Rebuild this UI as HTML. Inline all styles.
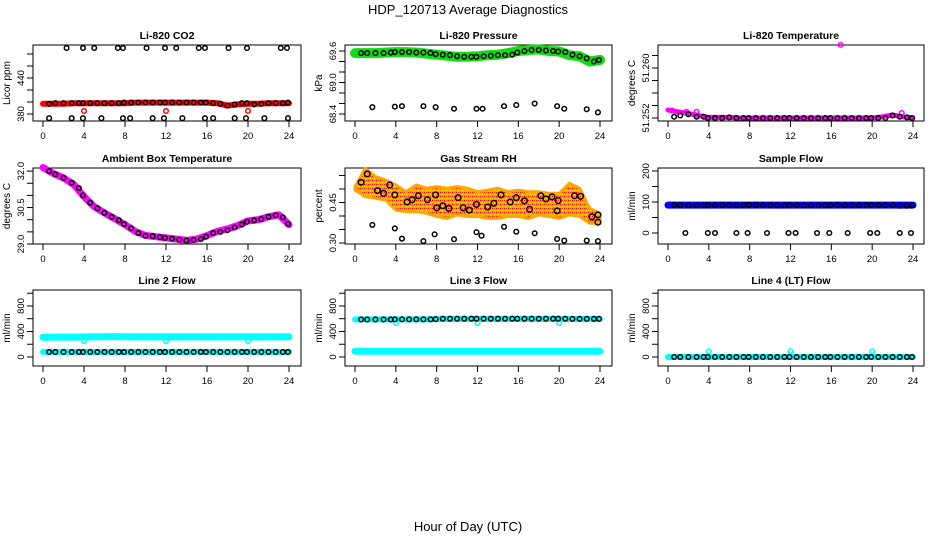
<!DOCTYPE html>
<html><head><meta charset="utf-8"><style>
body{margin:0;background:#fff;}
svg{display:block;font-family:"Liberation Sans",Arial,sans-serif;}
</style></head><body>
<svg id="chart" width="936" height="540" viewBox="0 0 936 540">
<defs>
<pattern id="rhpat" width="4" height="4" patternUnits="userSpaceOnUse">
<rect width="4" height="4" fill="#ffa500"/><rect width="1" height="1" fill="#e00"/><rect x="2" y="2" width="1" height="1" fill="#ff0"/><rect x="2" y="0" width="1" height="1" fill="#f33"/>
</pattern>
</defs>
<text x="468" y="14" text-anchor="middle" font-size="13">HDP_120713  Average Diagnostics</text>
<text x="468" y="531" text-anchor="middle" font-size="13">Hour of Day (UTC)</text>
</svg>
<script>
// shared hours
const blackHours=[0.6,1.2,2.0,2.8,3.5,3.9,4.6,5.3,6.0,6.7,7.4,7.9,8.6,9.3,10.0,10.7,11.4,11.9,12.6,13.3,14.0,14.7,15.4,15.9,16.6,17.3,18.0,18.7,19.4,19.9,20.6,21.3,22.0,22.7,23.4,23.9];
const bandHours=[0,1,2,3,4,5,6,7,8,9,10,11,12,13,14,15,16,17,18,19,20,21,22,23,24];
const xTicks=[0,4,8,12,16,20,24];
// CO2
const co2Band=[397,397,397,398,398,398,398,398,398,399,399,399,399,399,399,399,399,398,394,396,397,397,398,398,398];
const co2Black=[397,398,398,398,398,398,398,398,398,398,398,399,399,399,399,399,399,399,399,399,399,399,399,399,398,397,394,396,398,398,396,397,398,398,398,399];
const co2RedHours=[4,12,20];
const co2RedVals=[385,385,385];
const co2HighHours=[2.3,3.9,5.0,7.3,7.8,10.1,11.9,13.0,15.2,15.8,18.1,19.9,23.2,23.8];
const co2HighVal=490;
const co2LowHours=[0.6,2.8,3.9,5.7,7.8,8.5,10.7,11.8,13.6,15.8,16.6,18.7,19.8,21.6,23.9];
const co2LowVal=373;
// Pressure
const presBand=[69.56,69.56,69.56,69.57,69.58,69.58,69.57,69.55,69.53,69.51,69.49,69.49,69.50,69.52,69.53,69.56,69.60,69.62,69.63,69.60,69.59,69.52,69.50,69.40,69.43];
const presBlack=[69.56,69.56,69.56,69.56,69.57,69.58,69.58,69.58,69.57,69.57,69.56,69.54,69.53,69.52,69.50,69.49,69.49,69.49,69.50,69.51,69.52,69.52,69.53,69.57,69.60,69.62,69.62,69.61,69.60,69.59,69.58,69.53,69.50,69.46,69.40,69.43];
const presLowHours=[1.7,3.9,4.6,6.7,7.9,9.7,11.9,12.5,14.6,15.8,17.6,19.8,20.5,22.7,23.8];
const presLowVals=[68.53,68.54,68.55,68.55,68.53,68.50,68.50,68.50,68.55,68.57,68.60,68.55,68.50,68.49,68.43];
// Temperature
const tempBand=[51.2533,51.2530,51.2527,51.2524,51.2521,51.2521,51.2521,51.2520,51.2520,51.2520,51.2520,51.2520,51.2520,51.2520,51.2520,51.2520,51.2520,51.2520,51.2520,51.2520,51.2520,51.2522,51.2525,51.2522,51.2520];
const tempBlack=[51.2522,51.2524,51.2526,51.2522,51.2522,51.2520,51.2520,51.2520,51.2521,51.2520,51.2520,51.2520,51.2520,51.2520,51.2520,51.2520,51.2520,51.2520,51.2520,51.2520,51.2520,51.2520,51.2520,51.2520,51.2520,51.2520,51.2520,51.2520,51.2520,51.2520,51.2520,51.2520,51.2524,51.2522,51.2521,51.2520];
const tempMagHours=[0.4,1.8,2.8,16.9,22.9];
const tempMagVals=[51.2532,51.2530,51.2530,51.2637,51.2528];
// Ambient
const ambBand=[32.15,31.9,31.72,31.45,30.95,30.53,30.28,30.04,29.8,29.52,29.35,29.3,29.25,29.2,29.15,29.2,29.35,29.52,29.62,29.76,29.95,30.0,30.12,30.2,29.8];
const ambBlack=[32.0,31.87,31.72,31.52,31.3,31.0,30.7,30.47,30.28,30.12,29.98,29.82,29.65,29.45,29.34,29.32,29.28,29.25,29.22,29.18,29.14,29.17,29.2,29.3,29.45,29.5,29.57,29.68,29.8,29.92,29.97,30.02,30.12,30.18,30.1,29.83];
// RH
const rhUpper=[0.509,0.577,0.546,0.533,0.515,0.490,0.515,0.503,0.509,0.503,0.509,0.503,0.490,0.496,0.503,0.490,0.496,0.490,0.490,0.484,0.484,0.521,0.503,0.428,0.410];
const rhLower=[0.496,0.472,0.466,0.459,0.422,0.416,0.416,0.410,0.398,0.391,0.404,0.398,0.398,0.391,0.391,0.398,0.398,0.391,0.404,0.398,0.391,0.404,0.398,0.373,0.373];
const rhHours=[0.6,1.2,2.2,2.8,3.4,3.9,5.1,5.6,6.2,7.1,7.9,8.0,8.6,9.2,10.1,10.6,11.2,11.9,13.0,13.6,14.3,15.2,15.8,16.6,17.1,18.2,18.7,19.3,19.9,19.8,21.5,22.1,23.2,23.8,23.8];
const rhVals=[0.525,0.556,0.494,0.484,0.515,0.478,0.452,0.46,0.475,0.46,0.478,0.43,0.438,0.428,0.468,0.43,0.422,0.443,0.433,0.447,0.478,0.452,0.468,0.456,0.425,0.475,0.463,0.471,0.457,0.419,0.475,0.473,0.397,0.404,0.377];
const rhLowHours=[1.7,3.9,4.6,6.7,7.8,9.7,11.9,12.4,14.6,15.8,17.6,19.8,20.5,22.7,23.8];
const rhLowVals=[0.367,0.354,0.316,0.307,0.332,0.314,0.34,0.327,0.36,0.342,0.336,0.315,0.309,0.309,0.307];
// Sample flow
const sfBand=[90,90,90,90,90,90,90,90,90,90,90,90,90,90,90,90,90,90,90,90,90,90,90,90,90];
const sfBlack=[90,90,89,89,89,90,90,90,90,89,90,91,91,90,90,89,89,90,90,89,89,89,89,90,91,90,90,90,90,91,90,90,90,88,88,89];
const sfLowHours=[1.7,3.9,4.6,6.7,7.8,9.7,11.8,12.5,14.6,15.8,17.6,19.8,20.5,22.7,23.8];
const sfLowVal=0;
// Line 2
const l2High=[310,312,312,312,315,315,318,320,318,315,315,315,315,315,315,315,315,315,315,315,315,315,315,315,318];
const l2Low=[80,80,80,80,80,80,80,80,80,80,80,80,80,80,80,80,80,80,80,80,80,80,80,80,80];
const l2Black=[78,78,78,78,78,78,78,78,78,78,78,78,78,78,78,78,78,78,78,78,78,78,78,78,78,78,78,78,78,78,78,78,78,78,78,78];
const l2DipHours=[4,12,20];
const l2DipVals=[250,250,250];
// Line 3
const l3High=[590,590,590,590,590,590,590,590,595,595,595,595,595,595,595,595,595,595,595,595,595,595,595,595,595];
const l3Low=[90,90,90,90,90,90,90,90,90,90,90,90,90,90,90,90,90,90,90,90,90,90,90,90,90];
const l3Black=[588,588,588,588,588,590,590,590,590,590,590,592,600,600,600,600,600,600,600,600,600,600,600,600,600,600,600,600,600,600,600,598,598,598,598,598];
const l3DipHours=[4,12,20];
const l3DipVals=[530,530,530];
// Line 4
const l4Band=[0,0,0,0,0,0,0,0,0,0,0,0,0,0,0,0,0,0,0,0,0,0,0,0,0];
const l4Black=[0,0,0,0,0,0,0,0,0,0,0,0,0,0,0,0,0,0,0,0,0,0,0,0,0,0,0,0,0,0,0,0,0,0,0,0];
const l4OutHours=[4,12,20];
const l4OutVals=[90,90,90];

const NS='http://www.w3.org/2000/svg';
const svg=document.getElementById('chart');
function mk(tag,attrs,parent){const e=document.createElementNS(NS,tag);for(const k in attrs)e.setAttribute(k,attrs[k]);(parent||svg).appendChild(e);return e;}

const cols=[{l:33,r:301,x0:43,x24:289},{l:345,r:612,x0:355,x24:600},{l:658,r:924,x0:668,x24:913}];
const rows=[{t:45,b:121},{t:168,b:244},{t:290,b:366}];

function panel(ci,ri,title,ylab,yScale,ticks,labels,name){
  const c=cols[ci],r=rows[ri];
  const g=mk('g',{});
  
  
  const X=h=>c.x0+(c.x24-c.x0)*h/24;
  const Y=yScale;
  const box=mk('rect',{x:c.l,y:r.t,width:c.r-c.l,height:r.b-r.t,fill:'none',stroke:'#000','stroke-width':1},g);
  
  
  const t=mk('text',{x:(c.l+c.r)/2,y:r.t-6,'text-anchor':'middle','font-size':10.5,'font-weight':'bold'},g);
  t.textContent=title;
  
  
  const yl=mk('text',{transform:`translate(${c.l-23},${(r.t+r.b)/2}) rotate(-90)`,'text-anchor':'middle','font-size':10},g);
  yl.textContent=ylab;
  
  
  mk('line',{x1:X(0),x2:X(24),y1:r.b,y2:r.b,stroke:'#000'},g);
  xTicks.forEach(h=>{
    mk('line',{x1:X(h),x2:X(h),y1:r.b,y2:r.b+6,stroke:'#000'},g);
    const tl=mk('text',{x:X(h),y:r.b+18,'text-anchor':'middle','font-size':9.5},g);
    tl.textContent=h;
    
    
  });
  mk('line',{x1:c.l,x2:c.l,y1:Y(ticks[0]),y2:Y(ticks[ticks.length-1]),stroke:'#000'},g);
  ticks.forEach((v,i)=>{
    mk('line',{x1:c.l-6,x2:c.l,y1:Y(v),y2:Y(v),stroke:'#000'},g);
    if(labels[i]!==''){
      const tl=mk('text',{transform:`translate(${c.l-9},${Y(v)}) rotate(-90)`,'text-anchor':'middle','font-size':9.5},g);
      tl.textContent=labels[i];
      
      
    }
  });
  const plot=mk('g',{},g);
  return {X,Y,g:plot,c,r};
}
function band(p,hours,vals,color,w,name){
  const d=hours.map((h,i)=>(i?'L':'M')+p.X(h).toFixed(1)+','+p.Y(vals[i]).toFixed(1)).join(' ');
  const e=mk('path',{d,fill:'none',stroke:color,'stroke-width':w,'stroke-linecap':'round','stroke-linejoin':'round'},p.g);
  
  
}
function pts(p,hours,vals,color,name,rad){
  hours.forEach((h,i)=>{
    const v=Array.isArray(vals)?vals[i]:vals;
    const e=mk('circle',{cx:p.X(h),cy:p.Y(v),r:rad||2.3,fill:'none',stroke:color,'stroke-width':1.5},p.g);
    
    
  });
}

let p=panel(0,0,'Li-820 CO2','Licor ppm',v=>114-(v-380)*0.6,[380,400,420,440,460,480],['380','','','440','',''],'co2');
band(p,bandHours,co2Band,'#f00',6,'co2-band');
pts(p,co2RedHours,co2RedVals,'#f00','co2-red-point');
pts(p,blackHours,co2Black,'#000','co2-average-point');
pts(p,co2HighHours,co2HighVal,'#000','co2-high-outlier');
pts(p,co2LowHours,co2LowVal,'#000','co2-low-outlier');

p=panel(1,0,'Li-820 Pressure','kPa',v=>114-(v-68.4)*52.5,[68.4,68.6,68.8,69.0,69.2,69.4,69.6],['68.4','','','69.0','','','69.6'],'pressure');
band(p,bandHours,presBand,'#1d1',10,'pressure-band');
pts(p,blackHours,presBlack,'#000','pressure-average-point');
pts(p,presLowHours,presLowVals,'#000','pressure-low-outlier');

p=panel(2,0,'Li-820 Temperature','degrees C',v=>118-(v-51.252)*6250,[51.252,51.254,51.256,51.258,51.260,51.262],['51.252','','','','51.260',''],'temperature');
band(p,bandHours,tempBand,'#f0f',5,'temperature-band');
pts(p,tempMagHours,tempMagVals,'#f0f','temperature-magenta-point');
pts(p,blackHours,tempBlack,'#000','temperature-average-point');

p=panel(0,1,'Ambient Box Temperature','degrees C',v=>244-(v-29)*24.3,[29.0,29.5,30.0,30.5,31.0,31.5,32.0],['29.0','','','30.5','','','32.0'],'ambient');
band(p,bandHours,ambBand,'#f0f',7,'ambient-band');
pts(p,blackHours,ambBlack,'#000','ambient-average-point');

p=panel(1,1,'Gas Stream RH','percent',v=>243-(v-0.30)*270,[0.30,0.35,0.40,0.45,0.50,0.55],['0.30','','','0.45','',''],'rh');
{
  const up=bandHours.map((h,i)=>p.X(h).toFixed(1)+','+p.Y(rhUpper[i]).toFixed(1));
  const lo=bandHours.map((h,i)=>p.X(h).toFixed(1)+','+p.Y(rhLower[i]).toFixed(1)).reverse();
  const e=mk('polygon',{points:up.concat(lo).join(' '),fill:'url(#rhpat)',stroke:'#ffa500','stroke-width':3,'stroke-linejoin':'round'},p.g);
  
  
}
pts(p,rhHours,rhVals,'#000','rh-average-point',2.8);
pts(p,rhLowHours,rhLowVals,'#000','rh-low-outlier');

p=panel(2,1,'Sample Flow','ml/min',v=>233-v*0.31,[0,50,100,150,200],['0','','100','','200'],'sample-flow');
band(p,bandHours,sfBand,'#00f',7,'sample-flow-band');
pts(p,blackHours,sfBlack,'#000','sample-flow-average-point');
pts(p,sfLowHours,sfLowVal,'#000','sample-flow-low-outlier');

const flowY=v=>357-v*0.0638;
const flowT=[0,200,400,600,800,1000];
const flowL=['0','','400','','800',''];
p=panel(0,2,'Line 2 Flow','ml/min',flowY,flowT,flowL,'line2');
band(p,bandHours,l2High,'#0ff',7,'line2-high-band');
band(p,bandHours,l2Low,'#0ff',6,'line2-low-band');
pts(p,l2DipHours,l2DipVals,'#0ff','line2-dip-point');
pts(p,blackHours,l2Black,'#000','line2-average-point');

p=panel(1,2,'Line 3 Flow','ml/min',flowY,flowT,flowL,'line3');
band(p,bandHours,l3High,'#0ff',6,'line3-high-band');
band(p,bandHours,l3Low,'#0ff',7,'line3-low-band');
pts(p,l3DipHours,l3DipVals,'#0ff','line3-dip-point');
pts(p,blackHours,l3Black,'#000','line3-average-point');

p=panel(2,2,'Line 4 (LT) Flow','ml/min',flowY,flowT,flowL,'line4');
band(p,bandHours,l4Band,'#0ff',6,'line4-band');
pts(p,blackHours,l4Black,'#000','line4-average-point');
pts(p,l4OutHours,l4OutVals,'#0ff','line4-outlier-point');
</script>
</body></html>
